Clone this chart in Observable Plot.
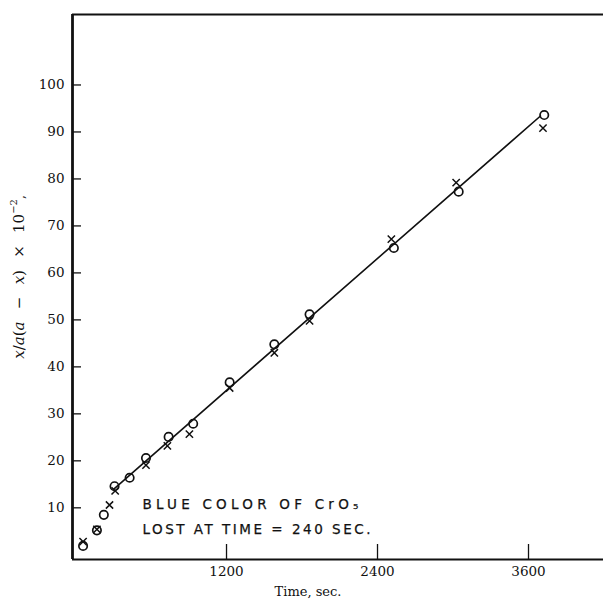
<!DOCTYPE html>
<html>
<head>
<meta charset="utf-8">
<script src="https://cdn.jsdelivr.net/npm/d3@7"></script>
<script src="https://cdn.jsdelivr.net/npm/@observablehq/plot@0.6"></script>
<style>
  html, body { margin: 0; padding: 0; background: #fff; }
  #chart { width: 603px; height: 614px; }
</style>
</head>
<body>
<div id="chart"></div>
<script>
// ---- data ----
const circleTimes  = [60, 170, 225, 310, 430, 560, 740, 935, 1225, 1580, 1860, 2530, 3045, 3725];
const circleValues = [1.9, 5.2, 8.5, 14.6, 16.4, 20.6, 25.1, 27.9, 36.7, 44.8, 51.2, 65.3, 77.3, 93.6];
const crossTimes   = [60, 170, 270, 315, 560, 730, 905, 1225, 1580, 1860, 2510, 3025, 3715];
const crossValues  = [2.8, 5.4, 10.6, 13.6, 19.1, 23.2, 25.7, 35.5, 43.0, 49.8, 67.2, 79.2, 90.8];
const lineTimes    = [304, 3695];
const lineValues   = [14.0, 93.4];
const xTicks = [1200, 2400, 3600];
const yTicks = [10, 20, 30, 40, 50, 60, 70, 80, 90, 100];
const noteLines = ["BLUE COLOR OF CrO\u2085", "LOST AT TIME = 240 SEC."];
const xLabel = "Time, sec.";

const circles = circleTimes.map((t, i) => ({t, v: circleValues[i]}));
const crosses = crossTimes.map((t, i) => ({t, v: crossValues[i]}));
const fit = lineTimes.map((t, i) => ({t, v: lineValues[i]}));

const W = 603, H = 614;
const mL = 72, mR = 0, mT = 14, mB = 55;
const xDom = [-24, 4196], yDom = [-1, 115];
const serif = "'DejaVu Serif', 'Liberation Serif', serif";

const plot = Plot.plot({
  width: W, height: H,
  marginLeft: mL, marginRight: mR, marginTop: mT, marginBottom: mB,
  style: {background: "#fff", color: "#111", fontFamily: serif},
  x: {domain: xDom, axis: null},
  y: {domain: yDom, axis: null},
  marks: [
    // frame (left, bottom, top)
    Plot.ruleX([xDom[0]], {stroke: "#111", strokeWidth: 2.8}),
    Plot.ruleY([yDom[0]], {stroke: "#111", strokeWidth: 2.2}),
    Plot.ruleY([yDom[1]], {stroke: "#111", strokeWidth: 2.2}),
    // inward ticks
    Plot.tickY(yTicks, {y: d => d, stroke: "#111", strokeWidth: 1.3, insetRight: W - mL - mR - 9}),
    Plot.tickX(xTicks, {x: d => d, stroke: "#111", strokeWidth: 1.3, insetTop: H - mT - mB - 15}),
    // axis labels
    Plot.axisY({ticks: yTicks, tickSize: 0, tickPadding: 8, fontSize: 13.5, label: null, tickFormat: d => String(d)}),
    Plot.axisX({ticks: xTicks, tickSize: 0, tickPadding: 7, fontSize: 13.5, label: null, tickFormat: d => String(d)}),
    Plot.text([xLabel], {frameAnchor: "bottom", dy: 36, fontSize: 13, dx: -30}),
    // fitted line
    Plot.line(fit, {x: "t", y: "v", stroke: "#111", strokeWidth: 1.6}),
    // data
    Plot.dot(circles, {x: "t", y: "v", r: 4.2, stroke: "#111", strokeWidth: 1.7, fill: "none"}),
    Plot.dot(crosses, {x: "t", y: "v", symbol: "times", r: 3.4, stroke: "#111", strokeWidth: 1.5}),
    // annotation
    Plot.text(noteLines, {
      x: 532, y: (d, i) => [10.6, 5.4][i], textAnchor: "start",
      fontFamily: "'DejaVu Sans', sans-serif", fontSize: 13.5, fontWeight: "normal",
      fill: "#111", stroke: "#111", strokeWidth: 0.25, lineAnchor: "middle"
    })
  ]
});

document.getElementById("chart").appendChild(plot);
const svg = d3.select(plot);
svg.selectAll("text").filter(function() { return this.textContent.startsWith("BLUE"); })
  .attr("textLength", 216).attr("lengthAdjust", "spacing");
svg.selectAll("text").filter(function() { return this.textContent.startsWith("LOST"); })
  .attr("textLength", 228).attr("lengthAdjust", "spacing");

// rotated y label with italic variables
const yl = svg.append("text")
  .attr("transform", "translate(24,277) rotate(-90)")
  .attr("text-anchor", "middle")
  .attr("font-family", serif)
  .attr("font-size", 15)
  .attr("fill", "#111");
const parts = [["x", true], ["/", false], ["a", true], ["(", false], ["a", true], ["\u2002 \u2212 \u2002", false], ["x", true], [")\u2002 \u00d7 \u200210", false]];
parts.forEach(([s, it]) => yl.append("tspan").attr("font-style", it ? "italic" : "normal").text(s));
yl.append("tspan").attr("dy", -7).attr("font-size", 10).text("\u22122");
yl.append("tspan").attr("dy", 7).attr("font-size", 12).text(",");
</script>
</body>
</html>
